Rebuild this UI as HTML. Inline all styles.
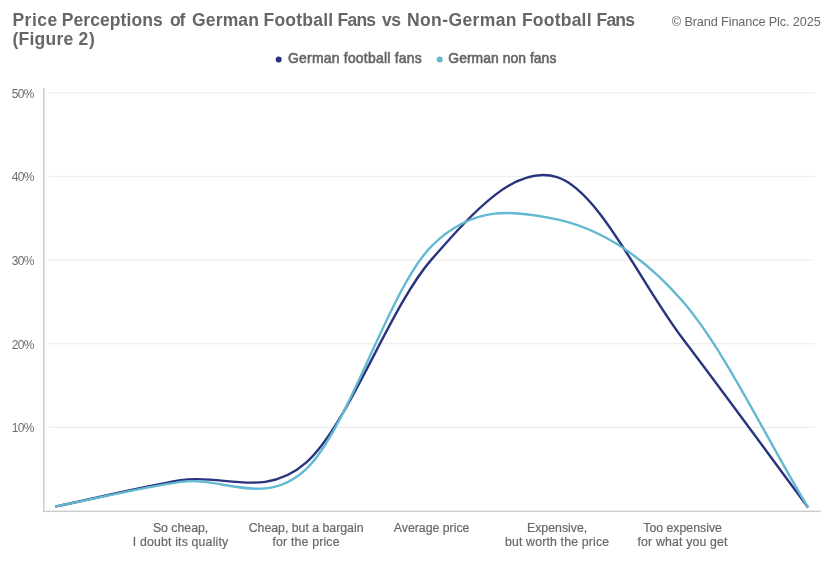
<!DOCTYPE html>
<html><head><meta charset="utf-8"><title>Price Perceptions</title>
<style>
html,body{margin:0;padding:0;background:#fff;}
body{width:839px;height:568px;overflow:hidden;font-family:"Liberation Sans",sans-serif;}
svg{display:block}
text{font-family:"Liberation Sans",sans-serif;}
.title{font-size:17.5px;font-weight:bold;fill:#666;}
.copy{font-size:12.7px;fill:#666;letter-spacing:-0.12px;}
.lg{font-size:13.9px;fill:#666;stroke:#666;stroke-width:0.6px;}
.yl{font-size:12px;fill:#6c6c6c;letter-spacing:-0.6px;}
.xl{font-size:12.3px;fill:#686868;stroke:#686868;stroke-width:0.2px;}
</style></head><body>
<svg width="839" height="568" viewBox="0 0 839 568">
<rect width="839" height="568" fill="#fff"/>
<text y="25.5" class="title"><tspan x="12.5" letter-spacing="0.45">Price </tspan><tspan x="61.8" letter-spacing="0.07">Perceptions </tspan><tspan x="169.9" letter-spacing="-1.00">of </tspan><tspan x="192.1" letter-spacing="0.14">German </tspan><tspan x="263.5" letter-spacing="0.23">Football </tspan><tspan x="337.6" letter-spacing="-0.80">Fans </tspan><tspan x="382.0" letter-spacing="-0.50">vs </tspan><tspan x="407.0" letter-spacing="0.39">Non-German </tspan><tspan x="521.9" letter-spacing="0.23">Football </tspan><tspan x="596.5" letter-spacing="-0.80">Fans</tspan></text>
<text y="44.9" class="title"><tspan x="12.4" letter-spacing="0.27">(Figure </tspan><tspan x="78.5" letter-spacing="0.80">2)</tspan></text>
<text x="820.6" y="26.3" text-anchor="end" class="copy">© Brand Finance Plc. 2025</text>
<circle cx="278.7" cy="59.5" r="3" fill="#29347f"/>
<text x="288" y="62.8" class="lg" letter-spacing="0.25">German football fans</text>
<circle cx="439.7" cy="59.5" r="3" fill="#62b9d1"/>
<text x="448.3" y="62.8" class="lg" letter-spacing="0.05">German non fans</text>
<rect x="49" y="426.65" width="765.5" height="1.3" fill="#eeeeee"/><rect x="49" y="343.05" width="765.5" height="1.3" fill="#eeeeee"/><rect x="49" y="259.45" width="765.5" height="1.3" fill="#eeeeee"/><rect x="49" y="175.85" width="765.5" height="1.3" fill="#eeeeee"/><rect x="49" y="92.25" width="765.5" height="1.3" fill="#eeeeee"/>
<rect x="43.05" y="88" width="1.45" height="424" fill="#cccccc"/>
<rect x="43.05" y="510.6" width="777.6" height="1.45" fill="#cccccc"/>
<text x="33.9" y="432.10" text-anchor="end" class="yl">10%</text><text x="33.9" y="348.50" text-anchor="end" class="yl">20%</text><text x="33.9" y="264.90" text-anchor="end" class="yl">30%</text><text x="33.9" y="181.30" text-anchor="end" class="yl">40%</text><text x="33.9" y="97.70" text-anchor="end" class="yl">50%</text>
<path d="M55.20,506.60C97.00,497.82,138.78,487.57,180.60,480.25C222.42,472.93,264.27,499.49,306.10,462.68C347.93,425.88,389.77,307.00,431.60,259.41C473.43,211.83,515.27,164.01,557.10,177.19C598.93,190.36,640.77,283.42,682.60,338.46C724.43,393.50,766.27,451.11,808.10,507.44" fill="none" stroke="#29347f" stroke-width="2.4" stroke-linecap="butt"/>
<path d="M55.20,506.60C97.00,498.37,138.78,488.17,180.60,481.92C222.42,475.68,264.27,508.44,306.10,469.12C347.93,429.81,389.77,287.65,431.60,246.03C473.43,204.41,515.27,210.23,557.10,219.43C598.93,228.63,640.77,253.24,682.60,301.24C724.43,349.24,766.27,438.70,808.10,507.44" fill="none" stroke="#62b9d1" stroke-width="2.4" stroke-linecap="butt"/>
<text x="180.6" y="531.5" text-anchor="middle" class="xl">So cheap,</text><text x="180.6" y="545.8" text-anchor="middle" class="xl" letter-spacing="0.17">I doubt its quality</text><text x="306.1" y="531.5" text-anchor="middle" class="xl">Cheap, but a bargain</text><text x="306.1" y="545.8" text-anchor="middle" class="xl" letter-spacing="0.17">for the price</text><text x="431.6" y="531.5" text-anchor="middle" class="xl">Average price</text><text x="557.1" y="531.5" text-anchor="middle" class="xl">Expensive,</text><text x="557.1" y="545.8" text-anchor="middle" class="xl" letter-spacing="0.17">but worth the price</text><text x="682.6" y="531.5" text-anchor="middle" class="xl">Too expensive</text><text x="682.6" y="545.8" text-anchor="middle" class="xl" letter-spacing="0.17">for what you get</text>
</svg>
</body></html>
